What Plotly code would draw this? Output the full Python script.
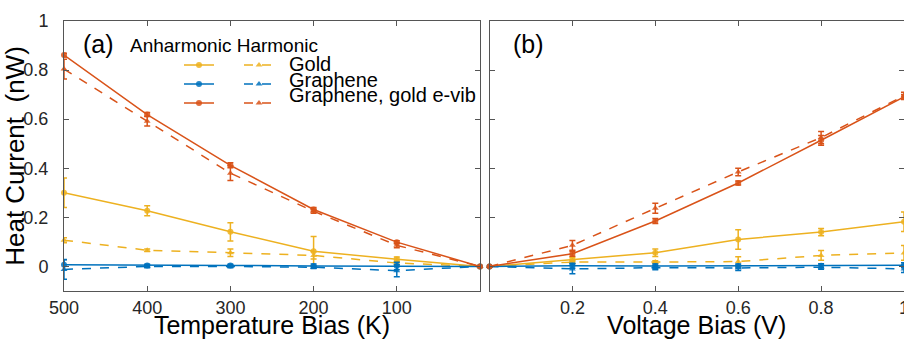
import plotly.graph_objects as go

# ---------------- data ----------------
T = [500, 400, 300, 200, 100, 0]
V = [0, 0.2, 0.4, 0.6, 0.8, 1.0]

gold_anh_T = [0.30, 0.227, 0.141, 0.062, 0.029, 0]
gold_anh_T_err = [0.06, 0.02, 0.037, 0.06, 0.01, 0]
gold_har_T = [0.107, 0.066, 0.056, 0.045, 0.014, 0]
gold_har_T_err = [0.01, 0.005, 0.015, 0.015, 0.008, 0]
graph_anh_T = [0.007, 0.004, 0.004, 0.002, 0.002, 0]
graph_anh_T_err = [0.02, 0.005, 0.005, 0.008, 0.015, 0]
graph_har_T = [-0.012, 0.0, 0.0, -0.003, -0.017, 0]
graph_har_T_err = [0.04, 0.005, 0.005, 0.005, 0.025, 0]
evib_anh_T = [0.861, 0.619, 0.412, 0.232, 0.099, 0]
evib_anh_T_err = [0.008, 0.008, 0.01, 0.008, 0.006, 0]
evib_har_T = [0.804, 0.592, 0.38, 0.225, 0.086, 0]
evib_har_T_err = [0.04, 0.02, 0.03, 0.008, 0.01, 0]

gold_anh_V = [0, 0.029, 0.056, 0.11, 0.14, 0.182]
gold_anh_V_err = [0, 0.008, 0.015, 0.04, 0.015, 0.04]
gold_har_V = [0, 0.018, 0.018, 0.02, 0.045, 0.055]
gold_har_V_err = [0, 0.005, 0.005, 0.02, 0.02, 0.03]
graph_anh_V = [0, 0.003, 0.002, 0.002, 0.003, 0.005]
graph_anh_V_err = [0, 0.01, 0.008, 0.008, 0.008, 0.01]
graph_har_V = [0, -0.01, -0.005, -0.006, -0.003, -0.01]
graph_har_V_err = [0, 0.02, 0.008, 0.01, 0.008, 0.015]
evib_anh_V = [0, 0.052, 0.185, 0.34, 0.514, 0.691]
evib_anh_V_err = [0, 0.01, 0.01, 0.008, 0.02, 0.01]
evib_har_V = [0, 0.086, 0.237, 0.385, 0.525, 0.695]
evib_har_V_err = [0, 0.02, 0.02, 0.015, 0.025, 0.015]

series_names = ["Gold", "Graphene", "Graphene, gold e-vib"]
x_tick_T = [500, 400, 300, 200, 100]
x_tick_V = [0.2, 0.4, 0.6, 0.8, 1]
x_tick_V_text = ["0.2", "0.4", "0.6", "0.8", "1"]
y_ticks = [0, 0.2, 0.4, 0.6, 0.8, 1]
y_tick_text = ["0", "0.2", "0.4", "0.6", "0.8", "1"]

colors = ["#EDB120", "#0072BD", "#D95319"]

FONT = "Liberation Sans, Arial, sans-serif"

fig = go.Figure()

left = [
    (gold_anh_T, gold_anh_T_err, gold_har_T, gold_har_T_err),
    (graph_anh_T, graph_anh_T_err, graph_har_T, graph_har_T_err),
    (evib_anh_T, evib_anh_T_err, evib_har_T, evib_har_T_err),
]
right = [
    (gold_anh_V, gold_anh_V_err, gold_har_V, gold_har_V_err),
    (graph_anh_V, graph_anh_V_err, graph_har_V, graph_har_V_err),
    (evib_anh_V, evib_anh_V_err, evib_har_V, evib_har_V_err),
]

def add(x, y, err, color, dash, symbol, xa, ya, legend="legend", show=False):
    fig.add_trace(go.Scatter(
        x=x, y=y, mode="lines+markers",
        line=dict(color=color, width=1.5, dash=dash),
        marker=dict(color=color, size=6, symbol=symbol, opacity=0.85),
        error_y=dict(type="data", array=err, color=color, thickness=1.5, width=3),
        xaxis=xa, yaxis=ya, cliponaxis=False,
        showlegend=show, legend=legend,
        name=" ",
    ))

for i in range(3):
    a, ae, h, he = left[i]
    add(T, a, ae, colors[i], "solid", "circle", "x", "y", "legend", True)
    add(T, h, he, colors[i], "dash", "triangle-up", "x", "y", "legend2", True)
for i in range(3):
    a, ae, h, he = right[i]
    add(V, a, ae, colors[i], "solid", "circle", "x2", "y2")
    add(V, h, he, colors[i], "dash", "triangle-up", "x2", "y2")

ML, MR, MT, MB = 64, 0, 21, 48
W, H = 904, 339
PW = W - ML - MR
PH = H - MT - MB

def px(x):
    return (x - ML) / PW

def py(y):
    return 1 - (y - MT) / PH

axis_common = dict(
    showline=True, linecolor="#555555", linewidth=1, mirror="ticks",
    ticks="inside", ticklen=5, tickcolor="#555555", showgrid=False,
    zeroline=False, tickfont=dict(family=FONT, size=18, color="#262626"),
    ticklabeloverflow="allow", automargin=False,
)

fig.update_layout(
    width=W, height=H,
    margin=dict(l=ML, r=MR, t=MT, b=MB, pad=0, autoexpand=False),
    paper_bgcolor="white", plot_bgcolor="white",
    font=dict(family=FONT, color="#262626"),
    xaxis=dict(domain=[0, px(480)], range=[500, 0], tickvals=x_tick_T,
               title=dict(text="Temperature Bias (K)", font=dict(size=25, color="black"), standoff=8),
               anchor="y", **axis_common),
    yaxis=dict(domain=[0, 1], range=[-0.1, 1], tickvals=y_ticks, ticktext=y_tick_text,
               ticklabelstandoff=11,
               title=dict(text="Heat Current  (nW)", font=dict(size=26, color="black"), standoff=0),
               anchor="x", **axis_common),
    xaxis2=dict(domain=[px(489.5), 1], range=[0, 1], tickvals=x_tick_V, ticktext=x_tick_V_text,
                title=dict(text="Voltage Bias (V)", font=dict(size=25, color="black"), standoff=8),
                anchor="y2", **axis_common),
    yaxis2=dict(domain=[0, 1], range=[-0.1, 1], tickvals=y_ticks, showticklabels=False,
                anchor="x2", **axis_common),
    legend=dict(x=px(179), y=py(50.5), xanchor="left", yanchor="top",
                bgcolor="rgba(0,0,0,0)", font=dict(size=6), itemwidth=30,
                tracegroupgap=0, traceorder="normal"),
    legend2=dict(x=px(239), y=py(50.5), xanchor="left", yanchor="top",
                 bgcolor="rgba(0,0,0,0)", font=dict(size=6), itemwidth=30,
                 tracegroupgap=0, traceorder="normal"),
)

ann = [
    dict(text="(a)", x=px(81), y=py(44), size=25),
    dict(text="(b)", x=px(511), y=py(44), size=25),
    dict(text="Anharmonic Harmonic", x=px(128), y=py(45), size=19),
]
for i, name in enumerate(series_names):
    ann.append(dict(text=name, x=px(287), y=py(64 + 15.5 * i), size=20))
for a in ann:
    fig.add_annotation(text=a["text"], x=a["x"], y=a["y"], xref="paper", yref="paper",
                       xanchor="left", yanchor="middle", showarrow=False,
                       font=dict(family=FONT, size=a["size"], color="black"))

fig.write_html("out.html")
